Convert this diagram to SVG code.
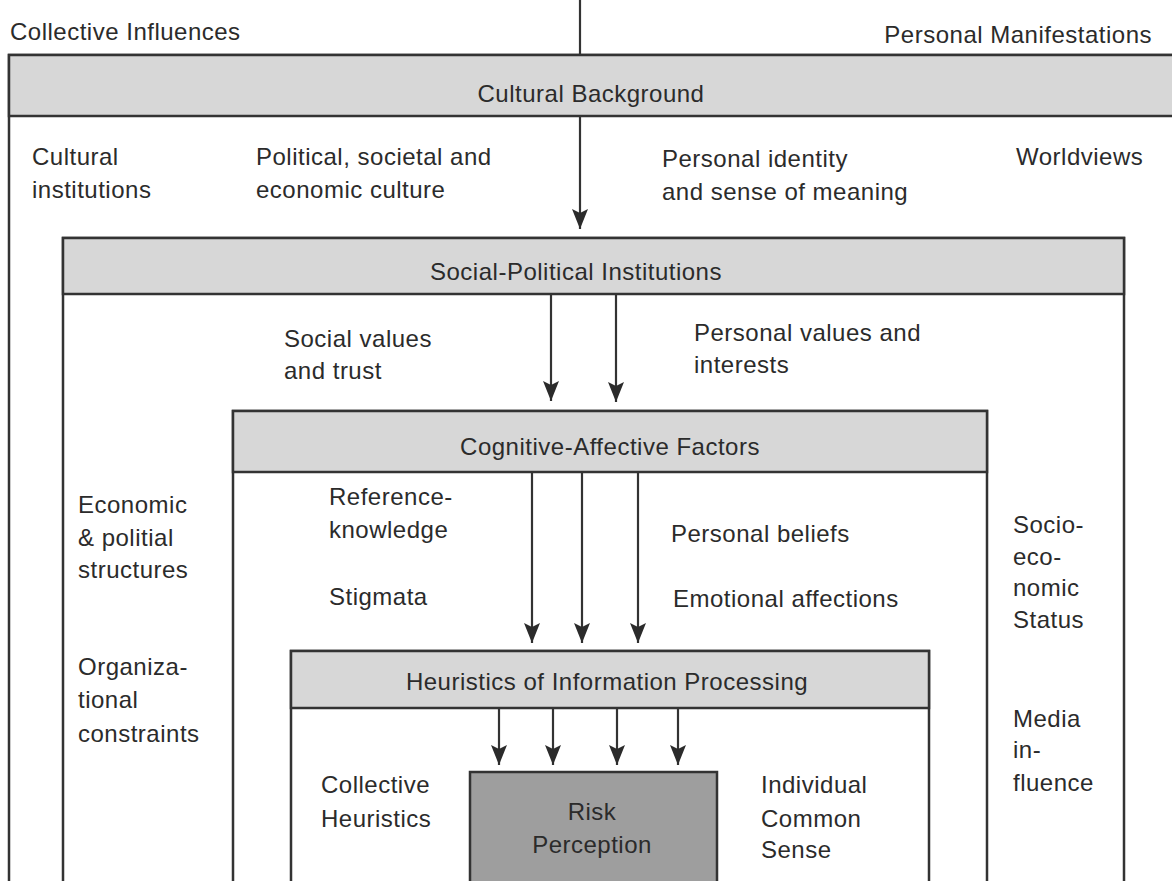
<svg xmlns="http://www.w3.org/2000/svg" width="1172" height="881" viewBox="0 0 1172 881">
<style>
text{font-family:"Liberation Sans",Arial,Helvetica,sans-serif;font-size:24px;letter-spacing:0.5px;fill:#2b2b2b}
.c{text-anchor:middle}
.box{fill:#fff;stroke:#333;stroke-width:2.5}
.band{fill:#d7d7d7;stroke:#333;stroke-width:2.5}
.risk{fill:#9e9e9e;stroke:#333;stroke-width:2.5}
.ln{stroke:#333;stroke-width:2.2;fill:none}
.ar{stroke:#333;stroke-width:2.2;fill:none;marker-end:url(#ah)}
</style>
<defs>
<marker id="ah" viewBox="0 0 20 16" refX="20" refY="8" markerWidth="20" markerHeight="16" markerUnits="userSpaceOnUse" orient="auto">
<path d="M0,0 L20,8 L0,16 L4,8 z" fill="#2b2b2b"/>
</marker>
</defs>
<rect width="1172" height="881" fill="#fff"/>

<text x="10" y="40">Collective Influences</text>
<text x="1152" y="43" text-anchor="end">Personal Manifestations</text>

<g id="cultural-background">
<rect class="box" x="9" y="55" width="1180" height="860"/>
<rect class="band" x="9" y="55" width="1180" height="61"/>
<text class="c" x="591" y="102">Cultural Background</text>
<text x="32" y="165">Cultural</text>
<text x="32" y="198">institutions</text>
<text x="256" y="165">Political, societal and</text>
<text x="256" y="198">economic culture</text>
<text x="662" y="167">Personal identity</text>
<text x="662" y="200">and sense of meaning</text>
<text x="1016" y="165">Worldviews</text>
</g>

<g id="social-political-institutions">
<rect class="box" x="63" y="238" width="1061" height="680"/>
<rect class="band" x="63" y="238" width="1061" height="56"/>
<text class="c" x="576" y="280">Social-Political Institutions</text>
<text x="284" y="347">Social values</text>
<text x="284" y="379">and trust</text>
<text x="694" y="341">Personal values and</text>
<text x="694" y="373">interests</text>
<text x="78" y="513">Economic</text>
<text x="78" y="546">&amp; politial</text>
<text x="78" y="578">structures</text>
<text x="78" y="675">Organiza-</text>
<text x="78" y="708">tional</text>
<text x="78" y="742">constraints</text>
<text x="1013" y="533">Socio-</text>
<text x="1013" y="565">eco-</text>
<text x="1013" y="596">nomic</text>
<text x="1013" y="628">Status</text>
<text x="1013" y="727">Media</text>
<text x="1013" y="758">in-</text>
<text x="1013" y="791">fluence</text>
</g>

<g id="cognitive-affective-factors">
<rect class="box" x="233" y="411" width="754" height="500"/>
<rect class="band" x="233" y="411" width="754" height="61"/>
<text class="c" x="610" y="455">Cognitive-Affective Factors</text>
<text x="329" y="505">Reference-</text>
<text x="329" y="538">knowledge</text>
<text x="329" y="605">Stigmata</text>
<text x="671" y="542">Personal beliefs</text>
<text x="673" y="607">Emotional affections</text>
</g>

<g id="heuristics">
<rect class="box" x="291" y="651" width="638" height="260"/>
<rect class="band" x="291" y="651" width="638" height="57"/>
<text class="c" x="607" y="690">Heuristics of Information Processing</text>
<text x="321" y="793">Collective</text>
<text x="321" y="827">Heuristics</text>
<text x="761" y="793">Individual</text>
<text x="761" y="827">Common</text>
<text x="761" y="858">Sense</text>
</g>

<g id="risk-perception">
<rect class="risk" x="470" y="772" width="247" height="140"/>
<text class="c" x="592" y="820">Risk</text>
<text class="c" x="592" y="853">Perception</text>
</g>

<g id="connectors">
<line class="ln" x1="580" y1="0" x2="580" y2="55"/>
<line class="ar" x1="580" y1="116" x2="580" y2="229"/>
<line class="ar" x1="551" y1="294" x2="551" y2="401"/>
<line class="ar" x1="616" y1="294" x2="616" y2="402"/>
<line class="ar" x1="532" y1="472" x2="532" y2="643"/>
<line class="ar" x1="582" y1="472" x2="582" y2="643"/>
<line class="ar" x1="638" y1="472" x2="638" y2="643"/>
<line class="ar" x1="499" y1="708" x2="499" y2="765"/>
<line class="ar" x1="553" y1="708" x2="553" y2="765"/>
<line class="ar" x1="617" y1="708" x2="617" y2="765"/>
<line class="ar" x1="678" y1="708" x2="678" y2="765"/>
</g>
</svg>
